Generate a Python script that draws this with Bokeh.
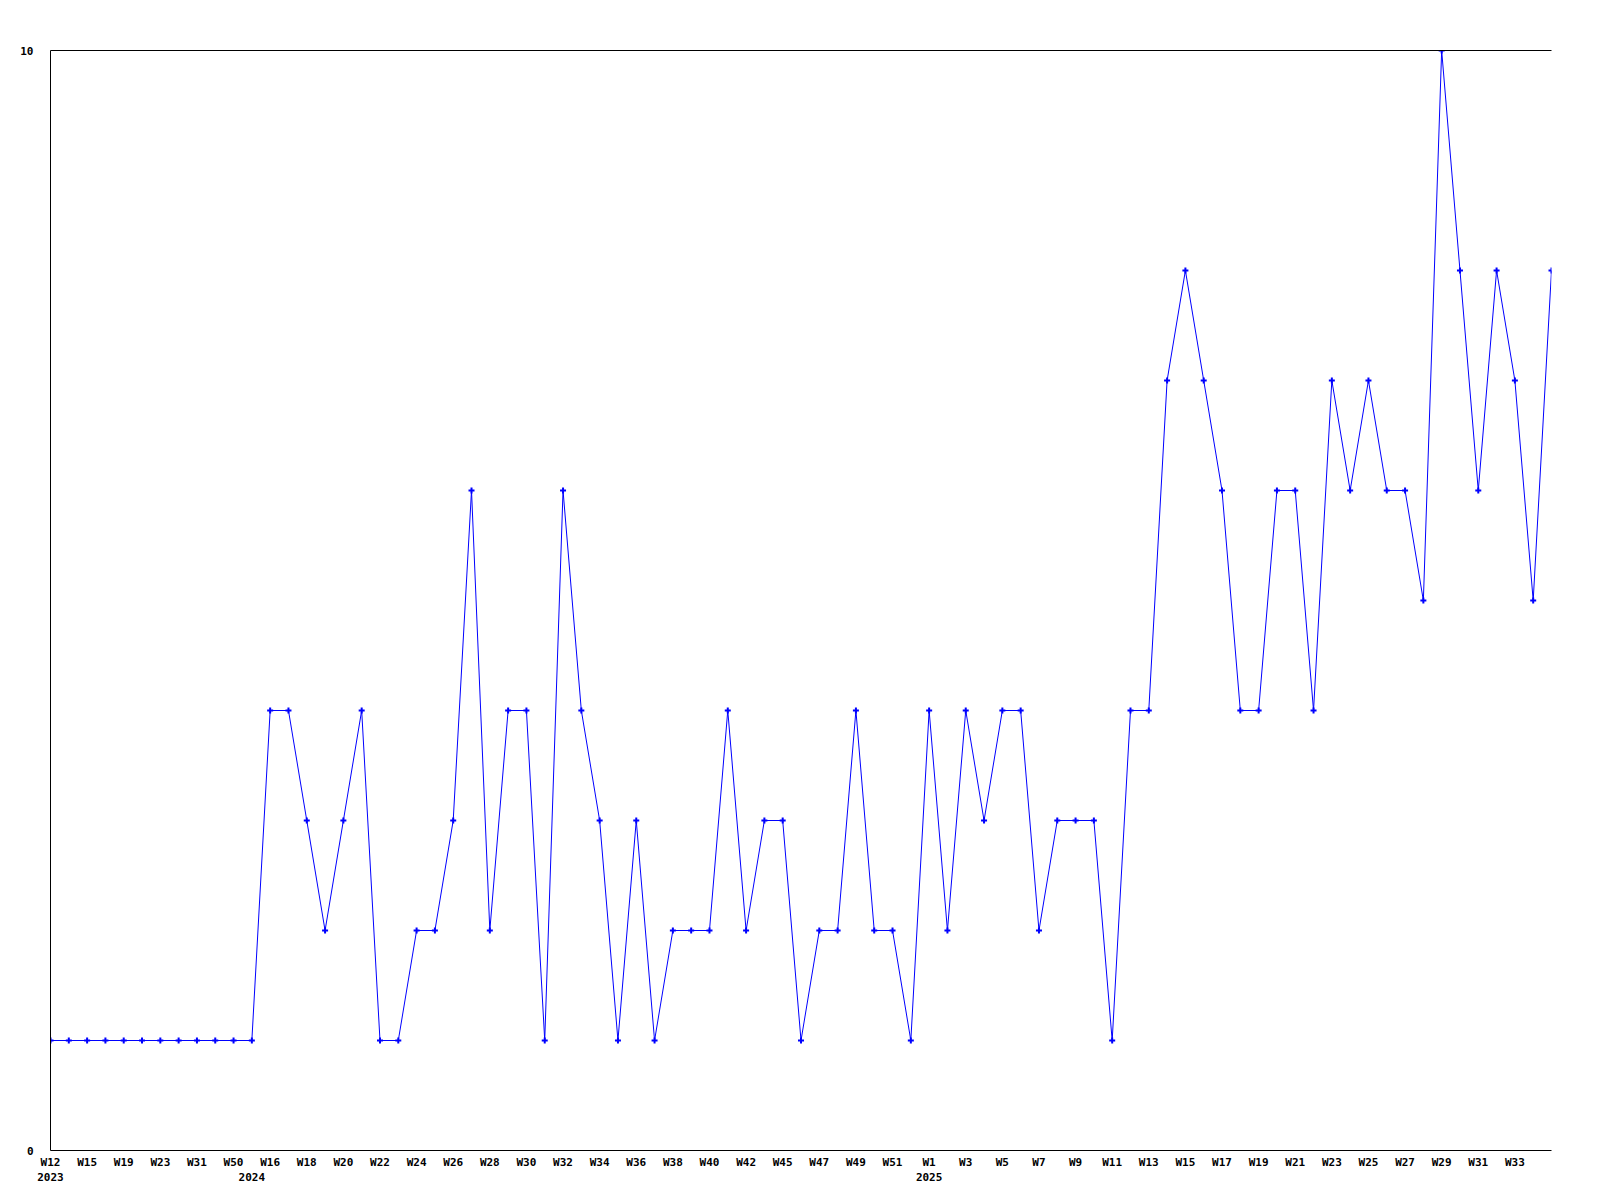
from bokeh.plotting import figure
from bokeh.models import FixedTicker, LinearAxis, Range1d, ColumnDataSource
from bokeh.embed import file_html
from bokeh.resources import INLINE

# weekly counts, one per data point (83 points)
values = [1, 1, 1, 1, 1, 1, 1, 1, 1, 1, 1, 1,
          4, 4, 3, 2, 3, 4, 1, 1, 2, 2,
          3, 6, 2, 4, 4, 1, 6, 4, 3, 1,
          3, 1, 2, 2, 2, 4, 2, 3, 3, 1,
          2, 2, 4, 2, 2, 1, 4, 2, 4, 3,
          4, 4, 2, 3, 3, 3, 1, 4, 4, 7,
          8, 7, 6, 4, 4, 6, 6, 4, 7, 6,
          7, 6, 6, 5, 10, 8, 6, 8, 7, 5,
          8]

# visible week tick labels (every second point)
week_labels = ["W12", "W15", "W19", "W23", "W31", "W50", "W16", "W18", "W20", "W22",
               "W24", "W26", "W28", "W30", "W32", "W34", "W36", "W38", "W40", "W42",
               "W45", "W47", "W49", "W51", "W1", "W3", "W5", "W7", "W9", "W11",
               "W13", "W15", "W17", "W19", "W21", "W23", "W25", "W27", "W29", "W31",
               "W33"]
week_label_step = 2

# year labels and the point index where each year starts
years = ["2023", "2024", "2025"]
year_start_index = [0, 11, 48]

y_ticks = [0, 10]

idx = list(range(len(values)))
src = ColumnDataSource(dict(x=idx, y=values))

FONT = "DejaVu Sans Mono"

p = figure(
    x_range=Range1d(0, len(values) - 1),
    y_range=Range1d(0, 10),
    frame_width=1501, frame_height=1100,
    min_border_left=50, min_border_top=50, min_border_right=30, min_border_bottom=40,
    x_axis_location=None, y_axis_location=None,
    output_backend="svg", toolbar_location=None,
    background_fill_color="white", border_fill_color="white",
    outline_line_color=None,
)
p.grid.grid_line_color = None
p.grid.visible = False

p.line("x", "y", source=src, line_color="#0000ff", line_width=1)
p.scatter("x", "y", source=src, marker="cross", size=6, line_width=2,
          line_color="#0000ff")

# y axis
yax = LinearAxis(ticker=FixedTicker(ticks=y_ticks))
yax.major_tick_out = 0
yax.major_tick_in = 0
yax.minor_tick_out = 0
yax.minor_tick_in = 0
yax.major_label_standoff = 17
yax.major_label_text_font = FONT
yax.major_label_text_font_style = "bold"
yax.major_label_text_font_size = "11px"
yax.major_label_text_color = "black"
yax.axis_line_color = "black"
p.add_layout(yax, "left")

# top border line
top = LinearAxis(ticker=FixedTicker(ticks=[]))
top.major_tick_out = 0
top.major_tick_in = 0
top.minor_tick_out = 0
top.minor_tick_in = 0
top.major_label_text_font_size = "0px"
top.axis_line_color = "black"
p.add_layout(top, "above")

# week labels axis
week_ticks = [i * week_label_step for i in range(len(week_labels))]
xax = LinearAxis(ticker=FixedTicker(ticks=week_ticks))
xax.major_label_overrides = {t: lab for t, lab in zip(week_ticks, week_labels)}
xax.major_tick_out = 0
xax.major_tick_in = 0
xax.minor_tick_out = 0
xax.minor_tick_in = 0
xax.major_label_standoff = 5
xax.major_label_text_font = FONT
xax.major_label_text_font_style = "bold"
xax.major_label_text_font_size = "11px"
xax.major_label_text_color = "black"
xax.axis_line_color = "black"
p.add_layout(xax, "below")

# year labels axis
yrax = LinearAxis(ticker=FixedTicker(ticks=year_start_index))
yrax.major_label_overrides = {t: lab for t, lab in zip(year_start_index, years)}
yrax.major_tick_out = 0
yrax.major_tick_in = 0
yrax.minor_tick_out = 0
yrax.minor_tick_in = 0
yrax.major_label_standoff = 1
yrax.major_label_text_font = FONT
yrax.major_label_text_font_style = "bold"
yrax.major_label_text_font_size = "11px"
yrax.major_label_text_color = "black"
yrax.axis_line_color = None
p.add_layout(yrax, "below")

open("out.html", "w").write(file_html(p, INLINE))
